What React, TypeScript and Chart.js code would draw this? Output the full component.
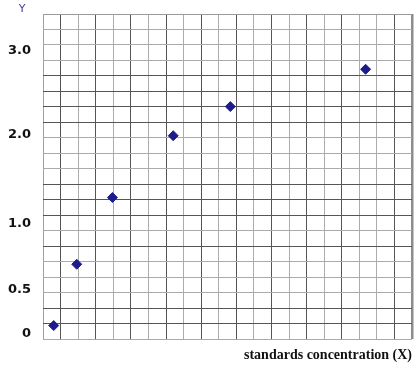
import React, { useEffect, useRef } from "react";
import { Chart, registerables } from "chart.js";

Chart.register(...registerables);

// Data (in grid-cell units of the 21 x 21 graph paper)
const pointX = [0.61, 1.92, 3.95, 7.41, 10.66, 18.36];
const pointY = [0.88, 4.84, 9.15, 13.14, 15.02, 17.43];

// Y-axis tick labels and where they sit on the paper (grid-cell units)
const yTickLabels = ["0", "0.5", "1.0", "2.0", "3.0"];
const yTickAt = [0.34, 3.22, 7.49, 13.2, 18.62];

// Which grid lines are the darker ones
const darkX = [1, 3, 5, 7, 9, 11, 13, 15, 17, 20];
const darkY = [1, 2, 6, 8, 9, 10, 14, 15, 16, 17];

const gridCells = 21;
const xAxisTitle = "standards concentration (X)";
const yAxisTitle = "Y";

const DARK = "#555555";
const LIGHT = "#ababab";

export default function App() {
  const ref = useRef<HTMLCanvasElement | null>(null);

  useEffect(() => {
    document.body.style.margin = "0";
    const canvas = ref.current;
    if (!canvas) return;

    const yTitlePlugin = {
      id: "yTitle",
      afterDraw(chart: any) {
        const { ctx, chartArea } = chart;
        ctx.save();
        ctx.font = '11px "DejaVu Sans"';
        ctx.fillStyle = "#3c3c9c";
        ctx.textAlign = "center";
        ctx.textBaseline = "middle";
        ctx.fillText(yAxisTitle, chartArea.left - 21, chartArea.top - 5);
        ctx.restore();
      },
    };

    const chart = new Chart(canvas, {
      type: "scatter",
      data: {
        datasets: [
          {
            data: pointX.map((x, i) => ({ x, y: pointY[i] })),
            pointStyle: "rectRot",
            pointRadius: 5,
            pointHoverRadius: 5,
            backgroundColor: "#1c1c8c",
            borderColor: "#1c1c8c",
            borderWidth: 1,
            xAxisID: "x",
            yAxisID: "y",
          },
        ],
      },
      options: {
        animation: false,
        responsive: false,
        maintainAspectRatio: false,
        events: [],
        layout: { padding: { left: 8, right: 8, top: 14, bottom: 7 } },
        plugins: {
          legend: { display: false },
          tooltip: { enabled: false },
          title: { display: false },
        },
        scales: {
          x: {
            type: "linear",
            min: 0,
            max: gridCells,
            ticks: { stepSize: 1, display: false },
            border: { display: false },
            afterFit: (s: any) => {
              s.paddingLeft = 0;
              s.paddingRight = 0;
            },
            grid: {
              drawTicks: false,
              color: (c: any) => {
                const v = Math.round(c.tick.value);
                if (v === gridCells) return "#8c8c8c";
                if (v === 0) return "#a0a0a0";
                return darkX.includes(v) ? DARK : LIGHT;
              },
              lineWidth: (c: any) =>
                Math.round(c.tick.value) === gridCells ? 2.5 : 1,
            },
            title: {
              display: true,
              text: xAxisTitle,
              align: "end",
              color: "#111111",
              font: { family: '"Liberation Serif"', weight: "bold", size: 14 },
              padding: { top: 8, bottom: 0 },
            },
          },
          y: {
            type: "linear",
            position: "left",
            min: 0,
            max: gridCells,
            ticks: { stepSize: 1, display: false },
            border: { display: false },
            afterFit: (s: any) => {
              s.width = 0;
              s.paddingTop = 0;
              s.paddingBottom = 0;
            },
            grid: {
              drawTicks: false,
              color: (c: any) => {
                const v = Math.round(c.tick.value);
                if (v === gridCells) return "#9a9a9a";
                return darkY.includes(v) ? DARK : LIGHT;
              },
              lineWidth: 1,
            },
          },
          yl: {
            type: "linear",
            position: "left",
            min: 0,
            max: gridCells,
            border: { display: false },
            grid: { display: false, drawTicks: false },
            afterFit: (s: any) => {
              s.width = 35;
              s.paddingTop = 0;
              s.paddingBottom = 0;
            },
            afterBuildTicks: (s: any) => {
              s.ticks = yTickAt.map((v) => ({ value: v }));
            },
            ticks: {
              autoSkip: false,
              padding: 12,
              color: "#111111",
              font: { family: '"DejaVu Sans"', weight: "bold", size: 13 },
              callback: (_v: any, i: number) => yTickLabels[i],
            },
          },
        },
      },
      plugins: [yTitlePlugin],
    } as any);

    return () => chart.destroy();
  }, []);

  return (
    <div style={{ width: 420, height: 371, background: "#ffffff" }}>
      <canvas ref={ref} width={420} height={371} style={{ display: "block" }} />
    </div>
  );
}
